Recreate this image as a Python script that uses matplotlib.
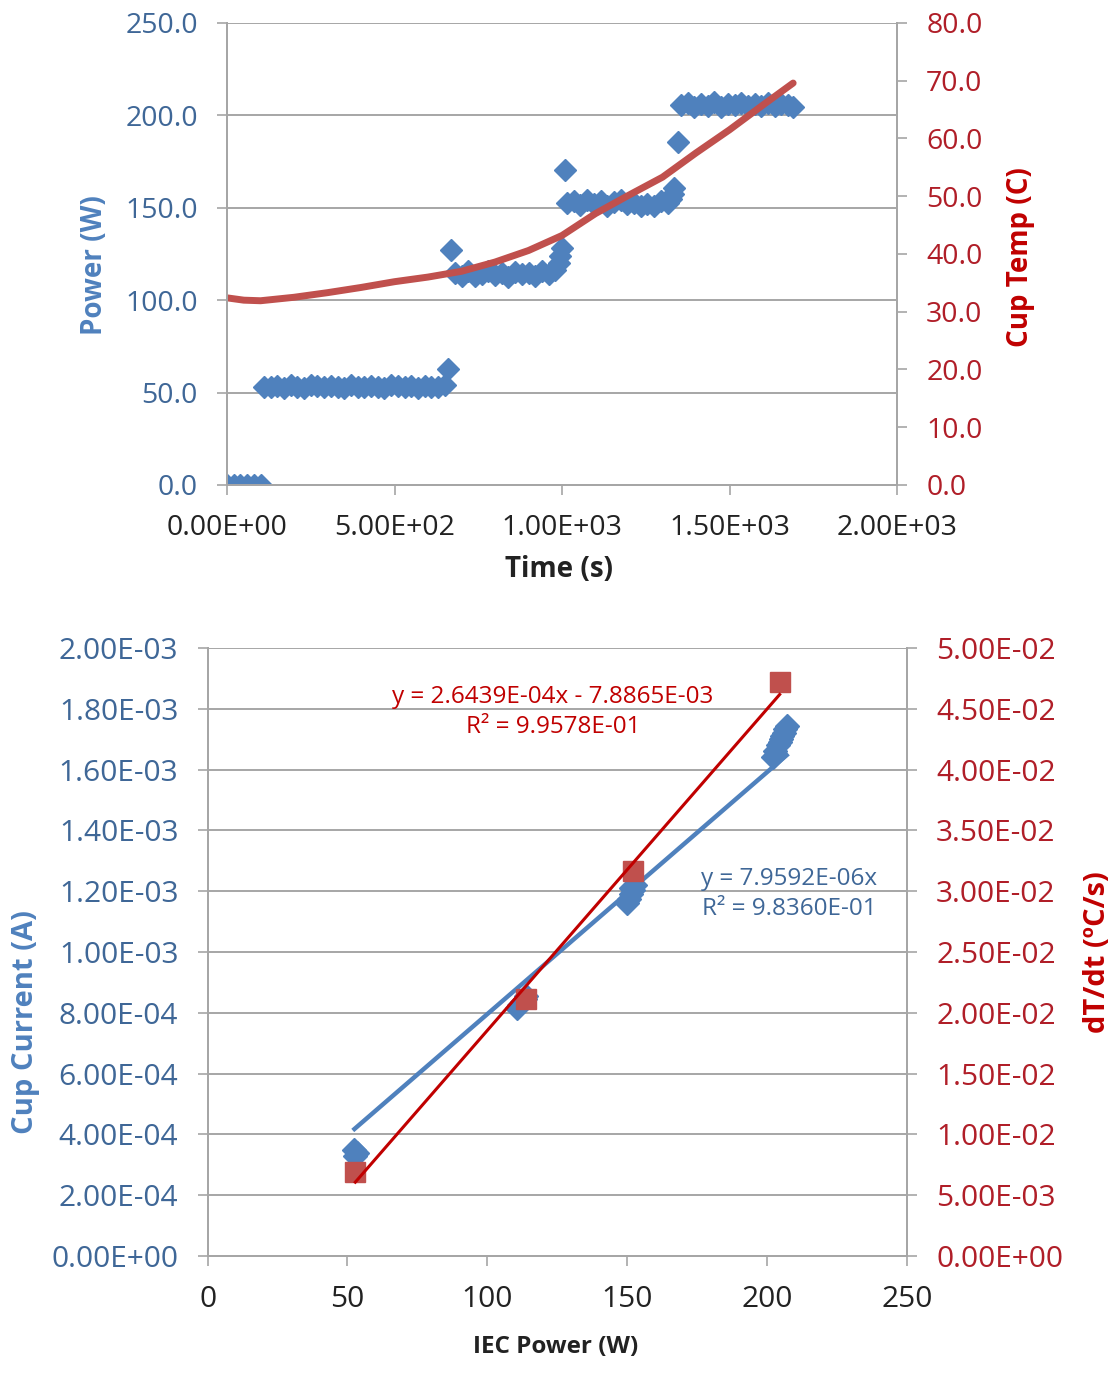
import matplotlib
matplotlib.use("Agg")
import matplotlib.pyplot as plt
import numpy as np
from matplotlib.ticker import FormatStrFormatter, MultipleLocator

plt.rcParams['font.family'] = ['Open Sans', 'DejaVu Sans']

# ---------------- data: top chart ----------------
time_s = [0, 20, 40, 60, 80, 100,
          110, 130, 150, 170, 190, 210, 230, 250, 270, 290, 310, 330, 350, 370,
          390, 410, 430, 450, 470, 490, 510, 530, 550, 570, 590, 610, 630, 650,
          660, 668,
          680, 700, 720, 740, 760, 780, 800, 820, 840, 860, 880, 900, 920, 940,
          960, 980, 990, 995, 1000,
          1008,
          1015, 1035, 1055, 1075, 1095, 1115, 1135, 1155, 1175, 1195, 1215, 1235,
          1255, 1275, 1295, 1315, 1325, 1330, 1335,
          1345,
          1355, 1375, 1395, 1415, 1435, 1455, 1475, 1495, 1515, 1535, 1555, 1575,
          1595, 1615, 1635, 1655, 1675, 1690]
power_w = [0, 0, 0, 0, 0, 0,
           53.1, 52.8, 53.4, 52.6, 53.9, 53.0, 52.7, 54.2, 53.3, 52.9, 53.6, 53.0, 52.5, 54.0,
           53.2, 52.8, 53.7, 53.1, 52.6, 53.9, 53.3, 52.9, 53.5, 52.7, 53.8, 53.0, 52.8, 54.1,
           62.5, 127.0,
           114.5, 113.2, 115.8, 112.9, 114.1, 116.0, 113.5, 114.8, 112.7, 115.5, 113.9, 114.6, 113.0, 115.9,
           114.2, 116.5, 120.0, 124.0, 128.0,
           170.5,
           152.8, 153.9, 151.6, 154.2, 152.3, 153.5, 151.2, 152.9, 154.0, 151.8, 152.5, 150.9,
           152.2, 151.0, 153.6, 152.4, 155.0, 157.5, 160.5,
           185.5,
           205.8, 206.9, 204.6, 206.2, 205.1, 207.0, 204.8, 206.4, 205.5, 206.8, 204.9, 206.1,
           205.3, 206.7, 205.0, 206.3, 205.6, 204.5]

temp_time_s = [0, 50, 100, 200, 300, 400, 500, 600, 700, 800, 900, 1000,
               1100, 1200, 1300, 1400, 1500, 1600, 1690]
cup_temp_c = [32.4, 32.0, 31.9, 32.5, 33.3, 34.2, 35.2, 36.0, 37.0, 38.6, 40.6, 43.2,
              47.0, 50.2, 53.3, 57.5, 61.5, 65.8, 69.6]

# ---------------- data: bottom chart ----------------
iec_power_cur = [52.5, 53.5, 52.8,
                 110.5, 111.5, 112.5, 113.5, 114.0,
                 150.0, 150.8, 151.5, 152.2, 152.8, 151.2,
                 202.0, 203.0, 204.0, 205.0, 206.0, 207.0, 204.5, 205.5, 206.5]
cup_current_a = [3.49e-4, 3.40e-4, 3.30e-4,
                 8.15e-4, 8.25e-4, 8.35e-4, 8.45e-4, 8.55e-4,
                 1.160e-3, 1.175e-3, 1.190e-3, 1.205e-3, 1.220e-3, 1.210e-3,
                 1.640e-3, 1.660e-3, 1.680e-3, 1.700e-3, 1.720e-3, 1.745e-3, 1.690e-3, 1.710e-3, 1.735e-3]

iec_power_dt = [52.8, 114.0, 152.0, 204.5]
dtdt_cs = [6.9e-3, 2.11e-2, 3.17e-2, 4.72e-2]

cur_slope = 7.9592e-06
cur_r2 = 9.8360e-01
dt_slope = 2.6439e-04
dt_intercept = -7.8865e-03
dt_r2 = 9.9578e-01

# ---------------- style ----------------
BLUE = '#4F81BD'
RED = '#C0504D'
DARKRED = '#C00000'
BLUE_TXT = '#3F6797'
RED_TXT = '#B01E28'
GRID = '#A6A6A6'

fig = plt.figure(figsize=(11.19, 13.73), dpi=100)


def style_axes(ax, ax2, fs):
    for a in (ax, ax2):
        a.spines['top'].set_visible(False)
        for s in ('left', 'right', 'bottom'):
            a.spines[s].set_color(GRID)
            a.spines[s].set_linewidth(1.4)
    ax.grid(axis='y', color=GRID, linewidth=1.4)
    ax.set_axisbelow(True)
    ax.tick_params(axis='y', direction='out', length=7, width=1.2, color=GRID,
                   labelcolor=BLUE_TXT, labelsize=fs, pad=14)
    ax2.tick_params(axis='y', direction='out', length=7, width=1.2, color=GRID,
                    labelcolor=RED_TXT, labelsize=fs, pad=14)
    ax.tick_params(axis='x', direction='out', length=7, width=1.2, color=GRID,
                   labelcolor='#222222', labelsize=fs, pad=14)


# ---------------- top chart ----------------
ax1 = fig.add_axes([0.2029, 0.6468, 0.5987, 0.33645])
ax1b = ax1.twinx()
ax1.plot(time_s, power_w, linestyle='none', marker='D', ms=11,
         color=BLUE, markeredgecolor=BLUE)
ax1b.plot(temp_time_s, cup_temp_c, color=RED, linewidth=5, solid_capstyle='round')
ax1.set_xlim(0, 2000)
ax1.set_ylim(0, 250)
ax1b.set_ylim(0, 80)
ax1.xaxis.set_major_locator(MultipleLocator(500))
ax1.yaxis.set_major_locator(MultipleLocator(50))
ax1b.yaxis.set_major_locator(MultipleLocator(10))
ax1.xaxis.set_major_formatter(FormatStrFormatter('%.2E'))
ax1.yaxis.set_major_formatter(FormatStrFormatter('%.1f'))
ax1b.yaxis.set_major_formatter(FormatStrFormatter('%.1f'))
style_axes(ax1, ax1b, 20.5)
ax1.set_xlabel('Time (s)', fontsize=20, fontweight='bold', color='#222222')
ax1.xaxis.set_label_coords(0.4955, -0.152)
ax1.set_ylabel('Power (W)', fontsize=20, fontweight='bold', color=BLUE)
ax1.yaxis.set_label_coords(-0.176, 0.476)
ax1b.set_ylabel('Cup Temp (C)', fontsize=20, fontweight='bold', color=DARKRED)
ax1b.yaxis.set_label_coords(1.163, 0.494)

# ---------------- bottom chart ----------------
ax2 = fig.add_axes([0.1855, 0.0852, 0.625, 0.4428])
ax2b = ax2.twinx()
ax2.plot(iec_power_cur, cup_current_a, linestyle='none', marker='D', ms=12,
         color=BLUE, markeredgecolor=BLUE, zorder=2)
xc = np.array([min(iec_power_cur), max(iec_power_cur)])
ax2.plot(xc, cur_slope * xc, color=BLUE, linewidth=3.2, zorder=3)
ax2b.plot(iec_power_dt, dtdt_cs, linestyle='none', marker='s', ms=15,
          color=RED, markeredgecolor=RED, zorder=2)
xd = np.array([min(iec_power_dt), max(iec_power_dt)])
ax2b.plot(xd, dt_slope * xd + dt_intercept, color=DARKRED, linewidth=2.2, zorder=3)

ax2.set_xlim(0, 250)
ax2.set_ylim(0, 2e-3)
ax2b.set_ylim(0, 5e-2)
ax2.xaxis.set_major_locator(MultipleLocator(50))
ax2.yaxis.set_major_locator(MultipleLocator(2e-4))
ax2b.yaxis.set_major_locator(MultipleLocator(5e-3))
ax2.xaxis.set_major_formatter(FormatStrFormatter('%d'))
ax2.yaxis.set_major_formatter(FormatStrFormatter('%.2E'))
ax2b.yaxis.set_major_formatter(FormatStrFormatter('%.2E'))
style_axes(ax2, ax2b, 21.5)
ax2.set_xlabel('IEC Power (W)', fontsize=17.5, fontweight='bold', color='#222222')
ax2.xaxis.set_label_coords(0.498, -0.13)
ax2.set_ylabel('Cup Current (A)', fontsize=21, fontweight='bold', color=BLUE)
ax2.yaxis.set_label_coords(-0.2396, 0.385)
ax2b.set_ylabel('dT/dt (ºC/s)', fontsize=21, fontweight='bold', color=DARKRED)
ax2b.yaxis.set_label_coords(1.2517, 0.5)

ax2b.text(0.494, 0.895,
          'y = %.4Ex - %.4E\nR² = %.4E' % (dt_slope, -dt_intercept, dt_r2),
          transform=ax2b.transAxes, ha='center', va='center', fontsize=17.5,
          color=DARKRED, linespacing=1.35, zorder=5)
ax2b.text(0.832, 0.595,
          'y = %.4Ex\nR² = %.4E' % (cur_slope, cur_r2),
          transform=ax2b.transAxes, ha='center', va='center', fontsize=17.5,
          color=BLUE_TXT, linespacing=1.35, zorder=5)

fig.savefig('out.png', dpi=100)
